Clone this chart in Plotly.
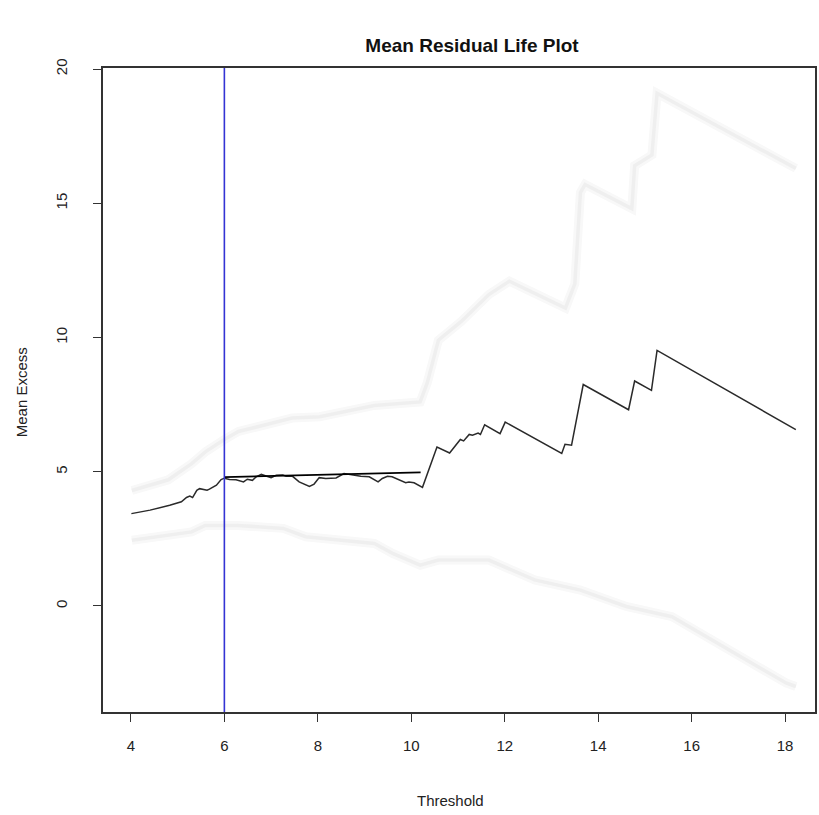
import plotly.graph_objects as go

# Mean excess over threshold
threshold = [4.01, 4.41, 4.83, 5.08, 5.19, 5.26, 5.32, 5.41, 5.47, 5.63, 5.68, 5.83, 5.93, 6.00,
             6.11, 6.25, 6.41, 6.49, 6.60, 6.68, 6.79, 6.89, 7.00, 7.11, 7.25, 7.32, 7.46, 7.60,
             7.82, 7.92, 8.03, 8.17, 8.39, 8.56, 8.74, 8.92, 9.10, 9.20, 9.29, 9.38, 9.49, 9.59,
             9.74, 9.88, 9.95, 10.06, 10.24, 10.55, 10.82, 11.05, 11.12, 11.24, 11.31, 11.43,
             11.48, 11.57, 11.90, 12.01, 13.22, 13.29, 13.43, 13.68, 14.65, 14.78, 15.14, 15.26,
             18.23]
mean_excess = [3.44, 3.57, 3.75, 3.88, 4.04, 4.09, 4.04, 4.31, 4.37, 4.31, 4.35, 4.50, 4.71, 4.76,
               4.71, 4.70, 4.62, 4.72, 4.68, 4.81, 4.90, 4.83, 4.78, 4.87, 4.88, 4.83, 4.83, 4.62,
               4.45, 4.54, 4.78, 4.75, 4.77, 4.93, 4.87, 4.83, 4.81, 4.71, 4.62, 4.75, 4.83, 4.81,
               4.71, 4.59, 4.62, 4.59, 4.42, 5.92, 5.70, 6.20, 6.15, 6.39, 6.36, 6.44,
               6.39, 6.75, 6.42, 6.85, 5.68, 6.02, 5.99, 8.25, 7.31, 8.38, 8.03, 9.52,
               6.57]

# Upper and lower confidence limits
upper_x = [4.02, 4.80, 5.30, 5.60, 6.00, 6.30, 7.45, 8.04, 9.21, 10.19, 10.34, 10.58, 11.07,
           11.66, 12.10, 13.30, 13.50, 13.62, 13.72, 14.29, 14.72, 14.78, 15.15, 15.26, 18.23]
upper_y = [4.30, 4.70, 5.30, 5.75, 6.20, 6.50, 7.00, 7.05, 7.47, 7.60, 8.30, 9.90, 10.60,
           11.60, 12.10, 11.10, 12.00, 15.40, 15.70, 15.20, 14.80, 16.40, 16.80, 19.10, 16.30]
lower_x = [4.02, 5.30, 5.59, 6.28, 7.26, 7.74, 9.21, 9.60, 10.19, 10.58, 11.66, 12.64, 13.62,
           14.60, 15.58, 16.55, 18.02, 18.23]
lower_y = [2.45, 2.76, 3.00, 3.00, 2.89, 2.58, 2.33, 1.96, 1.52, 1.71, 1.71, 0.97, 0.59,
           -0.02, -0.40, -1.39, -2.87, -3.00]

# Linear fit over the stable region and the chosen threshold
fit_x = [6.0, 10.2]
fit_y = [4.80, 4.98]
chosen_threshold = 6.0

x_ticks = [4, 6, 8, 10, 12, 14, 16, 18]
y_ticks = [0, 5, 10, 15, 20]

FONT = "Liberation Sans, Arial, sans-serif"
W, H = 819, 815

fig = go.Figure()

# faint, soft confidence limits
for xs, ys in ((upper_x, upper_y), (lower_x, lower_y)):
    fig.add_trace(go.Scatter(x=xs, y=ys, mode="lines",
                             line=dict(color="#f8f8f8", width=9), hoverinfo="skip"))
    fig.add_trace(go.Scatter(x=xs, y=ys, mode="lines",
                             line=dict(color="#efefef", width=3.5), hoverinfo="skip"))

fig.add_trace(go.Scatter(x=threshold, y=mean_excess, mode="lines",
                         line=dict(color="#2a2a2a", width=1.5)))
fig.add_trace(go.Scatter(x=fit_x, y=fit_y, mode="lines",
                         line=dict(color="#000000", width=1.8)))

fig.add_shape(type="line", xref="x", yref="paper",
              x0=chosen_threshold, x1=chosen_threshold, y0=0, y1=1,
              line=dict(color="#3434d4", width=1.6))

fig.update_layout(
    width=W, height=H,
    margin=dict(l=103, r=2, t=68, b=103),
    paper_bgcolor="white", plot_bgcolor="white",
    showlegend=False,
    font=dict(family=FONT, color="#222222"),
    title=dict(text="<b>Mean Residual Life Plot</b>", x=472 / W, xanchor="center",
               y=1 - 45 / H, yanchor="middle",
               font=dict(size=19, family=FONT, color="#111111")),
    annotations=[
        dict(text="Threshold", xref="paper", yref="paper",
             x=(451 - 103) / (W - 105), y=-(800 - 712) / (H - 171),
             xanchor="center", yanchor="middle", showarrow=False,
             font=dict(size=15, family=FONT, color="#222222")),
        dict(text="Mean Excess", xref="paper", yref="paper",
             x=-(103 - 22) / (W - 105), y=(712 - 392) / (H - 171),
             xanchor="center", yanchor="middle", showarrow=False, textangle=-90,
             font=dict(size=15, family=FONT, color="#222222")),
    ],
)

fig.update_xaxes(
    range=[3.4025, 18.64], tickvals=x_ticks, ticktext=[str(v) for v in x_ticks],
    showgrid=False, zeroline=False, showline=True, mirror=True,
    linecolor="#333333", linewidth=1.6,
    ticks="outside", ticklen=8, tickwidth=1.3, tickcolor="#333333",
    tickfont=dict(size=15, family=FONT, color="#222222"),
    ticklabelstandoff=11,
)
fig.update_yaxes(
    range=[-3.95, 20.04], tickvals=y_ticks, ticktext=[str(v) for v in y_ticks],
    showgrid=False, zeroline=False, showline=True, mirror=True,
    linecolor="#333333", linewidth=1.6,
    ticks="outside", ticklen=8, tickwidth=1.3, tickcolor="#333333",
    tickangle=-90,
    tickfont=dict(size=15, family=FONT, color="#222222"),
    ticklabelstandoff=20,
)

fig.write_html("out.html")
